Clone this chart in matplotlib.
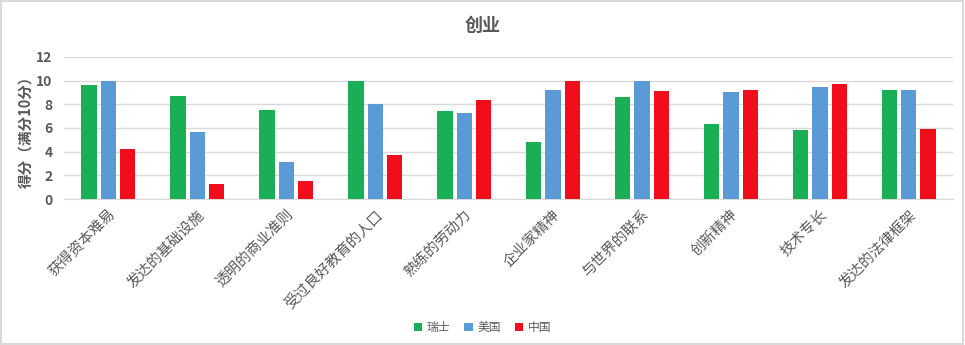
import matplotlib.pyplot as plt
import numpy as np
from matplotlib.patches import Rectangle

plt.rcParams['font.family'] = ['Noto Sans CJK SC', 'DejaVu Sans']

categories = ['获得资本难易', '发达的基础设施', '透明的商业准则', '受过良好教育的人口', '熟练的劳动力',
              '企业家精神', '与世界的联系', '创新精神', '技术专长', '发达的法律框架']
swiss = [9.6, 8.7, 7.5, 10.0, 7.4, 4.8, 8.6, 6.3, 5.8, 9.2]
usa = [10.0, 5.7, 3.1, 8.0, 7.3, 9.2, 10.0, 9.0, 9.5, 9.2]
china = [4.2, 1.3, 1.5, 3.7, 8.4, 10.0, 9.1, 9.2, 9.7, 5.9]
series_names = ['瑞士', '美国', '中国']
colors = ['#1aaf54', '#5b9bd5', '#f20d1c']
text_color = '#595959'

fig = plt.figure(figsize=(9.65, 3.45), dpi=100)
ax = fig.add_axes([0.066, 0.423, 0.922, 0.412])

x = np.arange(len(categories))
w = 0.17
step = 0.215
for i, (vals, name, c) in enumerate(zip([swiss, usa, china], series_names, colors)):
    ax.bar(x + (i - 1) * step, vals, width=w, color=c, label=name, zorder=3)

ax.set_xlim(-0.5, len(categories) - 0.5)
ax.set_ylim(0, 12)
ax.set_yticks(range(0, 13, 2))
ax.yaxis.grid(True, color='#d9d9d9', linewidth=1, zorder=0)
for s in ['top', 'right', 'left']:
    ax.spines[s].set_visible(False)
ax.spines['bottom'].set_color('#d9d9d9')
ax.tick_params(axis='both', length=0)
ax.tick_params(axis='y', colors=text_color, labelsize=10, pad=8)
for lbl in ax.get_yticklabels():
    lbl.set_fontweight('bold')

ax.set_xticks(x)
ax.set_xticklabels(categories, rotation=45, ha='right', rotation_mode='anchor',
                   fontsize=10.5, color=text_color)
ax.tick_params(axis='x', pad=6)

ax.set_ylabel('得分（满分10分）', fontsize=10.5, fontweight='bold', color=text_color, labelpad=2)
fig.text(0.5, 0.925, '创业', ha='center', va='center', fontsize=13, fontweight='bold', color=text_color)

fig.legend(loc='center', bbox_to_anchor=(0.5, 0.05), ncol=3, frameon=False,
           fontsize=8.5, handlelength=0.7, handleheight=0.7, handletextpad=0.4,
           columnspacing=1.2, labelcolor=text_color)

# light frame around the whole figure
fig.patches.append(Rectangle((0.001, 0.002), 0.997, 0.995, transform=fig.transFigure,
                             fill=False, edgecolor='#d9d9d9', linewidth=1.5))

fig.savefig('out.png', dpi=100)
